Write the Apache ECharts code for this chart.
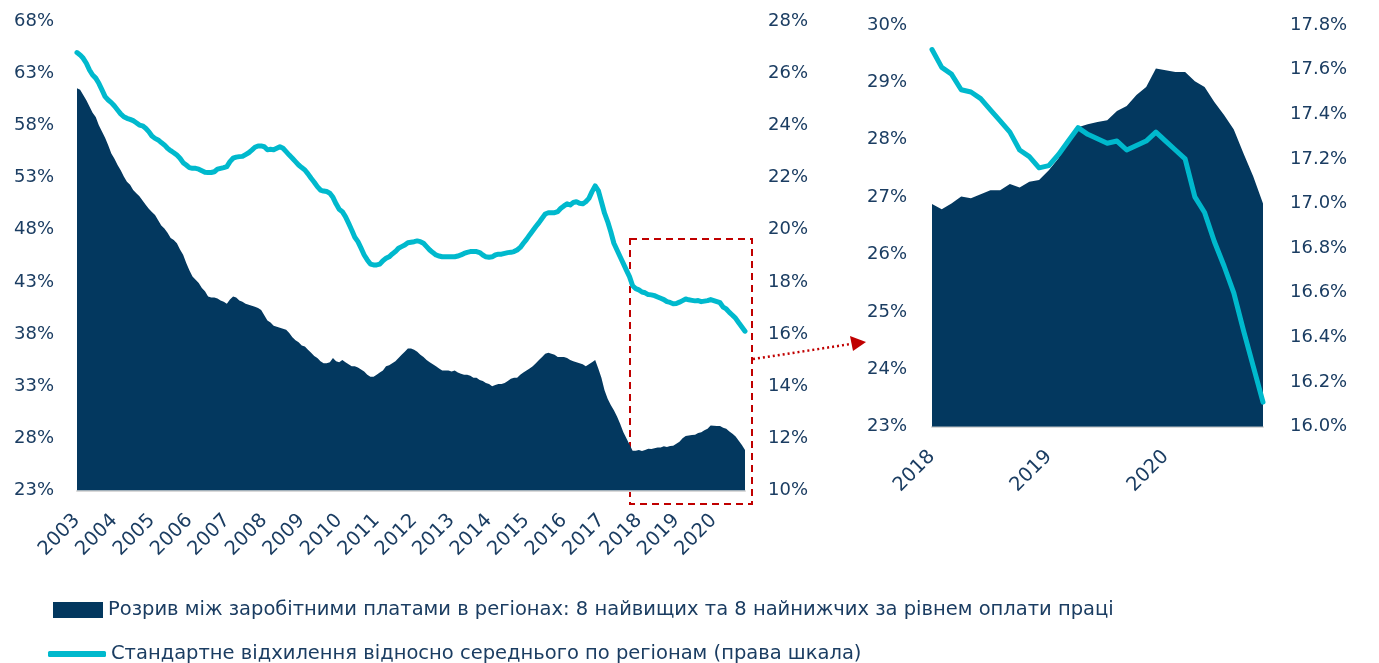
<!DOCTYPE html>
<html>
<head>
<meta charset="utf-8">
<script src="https://cdn.jsdelivr.net/npm/echarts@6/dist/echarts.min.js"></script>
<style>
  html, body { margin: 0; padding: 0; background: #fff; }
  #chart { width: 1379px; height: 663px; }
</style>
</head>
<body>
<div id="chart"></div>
<script>
// monthly data, Jan 2003 .. Nov 2020
var years = [2003, 2004, 2005, 2006, 2007, 2008, 2009, 2010, 2011, 2012, 2013, 2014, 2015, 2016, 2017, 2018, 2019, 2020];
var lastMonth = 11; // Nov 2020

// gap between 8 highest and 8 lowest paying regions, % (left scale)
var gapHist = [
  61.55, 61.4, 60.9, 60.4, 59.8, 59.2, 58.8, 58.0, 57.4, 56.8, 56.1, 55.3,
  54.8, 54.2, 53.7, 53.1, 52.6, 52.3, 51.8, 51.5, 51.2, 50.8, 50.4, 50.0,
  49.7, 49.4, 48.9, 48.4, 48.1, 47.7, 47.2, 47.0, 46.7, 46.1, 45.6, 44.8,
  44.1, 43.5, 43.2, 42.9, 42.4, 42.1, 41.6, 41.5, 41.5, 41.4, 41.2, 41.1,
  40.9, 41.3, 41.6, 41.5, 41.2, 41.1, 40.9, 40.8, 40.7, 40.6, 40.5, 40.3,
  39.8, 39.3, 39.1, 38.8, 38.7, 38.6, 38.5, 38.4, 38.1, 37.7, 37.4, 37.2,
  36.9, 36.8, 36.5, 36.2, 35.9, 35.7, 35.4, 35.2, 35.2, 35.3, 35.7, 35.4,
  35.3, 35.5, 35.3, 35.1, 34.9, 34.9, 34.8, 34.6, 34.4, 34.1, 33.9, 33.9,
  34.1, 34.3, 34.5, 34.9, 35.0, 35.2, 35.4, 35.7, 36.0, 36.3, 36.6, 36.6,
  36.5, 36.3, 36.0, 35.8, 35.5, 35.3, 35.1, 34.9, 34.7, 34.5, 34.5, 34.5,
  34.4, 34.5, 34.3, 34.2, 34.1, 34.1, 34.0, 33.8, 33.8, 33.6, 33.5, 33.3,
  33.2, 33.0, 33.1, 33.2, 33.2, 33.3, 33.5, 33.7, 33.8, 33.8, 34.1, 34.3,
  34.5, 34.7, 34.9, 35.2, 35.5, 35.8, 36.1, 36.2, 36.1, 36.0, 35.8, 35.8,
  35.8, 35.7, 35.5, 35.4, 35.3, 35.2, 35.1, 34.9, 35.1, 35.3, 35.5, 34.7,
  33.8, 32.6, 31.8, 31.2, 30.7, 30.1, 29.4, 28.6, 28.0, 27.4, 26.8, 26.8
];
var gapRecent = [
  26.88, 26.79, 26.89, 27.01, 26.98, 27.05, 27.12, 27.12, 27.23, 27.17, 27.27, 27.30,
  27.47, 27.68, 28.0, 28.22, 28.27, 28.31, 28.34, 28.50, 28.59, 28.78, 28.92, 29.24,
  29.21, 29.18, 29.18, 29.02, 28.92, 28.66, 28.43, 28.18, 27.76, 27.36, 26.89
];

// standard deviation relative to the regional mean, % (right scale)
var sdHist = [
  26.79, 26.70, 26.57, 26.38, 26.12, 25.93, 25.81, 25.61, 25.36, 25.10, 24.97, 24.87,
  24.74, 24.59, 24.44, 24.33, 24.27, 24.23, 24.18, 24.10, 24.01, 23.98, 23.89, 23.76,
  23.59, 23.50, 23.44, 23.34, 23.25, 23.12, 23.03, 22.95, 22.86, 22.74, 22.57, 22.48,
  22.38, 22.35, 22.35, 22.32, 22.26, 22.20, 22.19, 22.19, 22.22, 22.32, 22.35, 22.38,
  22.42, 22.61, 22.74, 22.78, 22.80, 22.81, 22.88, 22.95, 23.05, 23.16, 23.21, 23.21,
  23.18, 23.06, 23.08, 23.06, 23.12, 23.18, 23.12, 22.99, 22.86, 22.74, 22.61, 22.48,
  22.38, 22.29, 22.14, 21.97, 21.82, 21.65, 21.52, 21.48, 21.46, 21.40, 21.24, 20.99,
  20.78, 20.69, 20.50, 20.25, 19.99, 19.71, 19.54, 19.29, 19.03, 18.84, 18.68, 18.65,
  18.65, 18.68, 18.81, 18.90, 18.96, 19.07, 19.16, 19.29, 19.35, 19.41, 19.50, 19.52,
  19.54, 19.57, 19.54, 19.48, 19.35, 19.22, 19.12, 19.03, 18.99, 18.96, 18.96, 18.96,
  18.96, 18.96, 18.99, 19.03, 19.09, 19.13, 19.16, 19.16, 19.16, 19.12, 19.03, 18.96,
  18.94, 18.96, 19.03, 19.06, 19.06, 19.09, 19.12, 19.13, 19.16, 19.22, 19.32, 19.48,
  19.63, 19.80, 19.96, 20.12, 20.27, 20.44, 20.60, 20.65, 20.65, 20.65, 20.69, 20.82,
  20.91, 20.99, 20.95, 21.04, 21.07, 21.01, 20.99, 21.07, 21.20, 21.46, 21.68, 21.50,
  21.07, 20.63, 20.31, 19.92, 19.48, 19.22, 18.96, 18.71, 18.45, 18.20, 17.85, 17.74
];
var sdRecent = [
  17.69, 17.61, 17.58, 17.51, 17.50, 17.47, 17.42, 17.37, 17.32, 17.24, 17.21, 17.16,
  17.17, 17.22, 17.28, 17.34, 17.31, 17.29, 17.27, 17.28, 17.24, 17.26, 17.28, 17.32,
  17.28, 17.24, 17.20, 17.03, 16.96, 16.83, 16.72, 16.60, 16.43, 16.27, 16.11
];

var gapName = 'Розрив між заробітними платами в регіонах: 8 найвищих та 8 найнижчих за рівнем оплати праці';
var sdName = 'Стандартне відхилення відносно середнього по регіонам (права шкала)';

var navy = '#03385f';
var cyan = '#00b9cd';
var textColor = '#1b3d62';
var font = 'DejaVu Sans';

var months = [];
years.forEach(function (y) {
  for (var m = 1; m <= 12; m++) {
    if (y == years[years.length - 1] && m > lastMonth) break;
    months.push(y + '-' + (m < 10 ? '0' + m : m));
  }
});
var recentMonths = months.slice(months.length - gapRecent.length);
var gapAll = gapHist.concat(gapRecent);
var sdAll = sdHist.concat(sdRecent);

var chart = echarts.init(document.getElementById('chart'));

function xAxis(idx, data) {
  return {
    type: 'category',
    gridIndex: idx,
    data: data,
    boundaryGap: false,
    axisLine: { lineStyle: { color: '#d9d9d9', width: 2 } },
    axisTick: { show: false },
    axisLabel: {
      rotate: 45,
      margin: 27,
      fontSize: 19.5,
      fontFamily: font,
      color: textColor,
      interval: function (i, v) { return v.slice(5) == '01'; },
      formatter: function (v) { return v.slice(0, 4); }
    }
  };
}

function yAxis(idx, pos, min, max, step, margin, digits) {
  return {
    type: 'value',
    gridIndex: idx,
    position: pos,
    min: min,
    max: max,
    interval: step,
    splitLine: { show: false },
    axisLine: { show: false },
    axisTick: { show: false },
    axisLabel: {
      margin: margin,
      fontSize: 18,
      fontFamily: font,
      color: textColor,
      formatter: function (v) { return v.toFixed(digits) + '%'; }
    }
  };
}

function areaSeries(xi, yi, data) {
  return {
    name: gapName,
    type: 'line',
    xAxisIndex: xi,
    yAxisIndex: yi,
    data: data,
    symbol: 'none',
    color: navy,
    lineStyle: { width: 0 },
    areaStyle: { color: navy, opacity: 1 }
  };
}

function lineSeries(xi, yi, data) {
  return {
    name: sdName,
    type: 'line',
    xAxisIndex: xi,
    yAxisIndex: yi,
    data: data,
    symbol: 'none',
    color: cyan,
    lineStyle: { color: cyan, width: 5, cap: 'round', join: 'round' }
  };
}

var legendText = { fontSize: 19.5, fontFamily: font, color: textColor };

var option = {
  animation: false,
  grid: [
    { left: 77, top: 21, width: 668, height: 469.5 },
    { left: 932, top: 25, width: 331, height: 401.7 }
  ],
  xAxis: [xAxis(0, months), xAxis(1, recentMonths)],
  yAxis: [
    yAxis(0, 'left', 23, 68, 5, 23, 0),
    yAxis(0, 'right', 10, 28, 2, 23, 0),
    yAxis(1, 'left', 23, 30, 1, 25, 0),
    yAxis(1, 'right', 16, 17.8, 0.2, 27, 1)
  ],
  legend: [
    {
      left: 48,
      top: 595,
      itemWidth: 50,
      itemHeight: 16,
      itemGap: 0,
      selectedMode: false,
      textStyle: legendText,
      data: [{ name: gapName, icon: 'rect' }]
    },
    {
      left: 43,
      top: 639,
      itemWidth: 58,
      itemHeight: 6,
      selectedMode: false,
      textStyle: legendText,
      data: [{ name: sdName, icon: 'roundRect', itemStyle: { color: cyan } }]
    }
  ],
  series: [
    areaSeries(0, 0, gapAll),
    lineSeries(0, 1, sdAll),
    areaSeries(1, 2, gapRecent),
    lineSeries(1, 3, sdRecent)
  ],
  graphic: [
    {
      type: 'rect',
      shape: { x: 630, y: 239, width: 122, height: 265 },
      style: { fill: 'none', stroke: '#c00000', lineWidth: 2, lineDash: [7, 5] }
    },
    {
      type: 'line',
      shape: { x1: 753, y1: 359, x2: 851, y2: 344 },
      style: { stroke: '#c00000', lineWidth: 2.5, lineDash: [2, 3] }
    },
    {
      type: 'polygon',
      shape: { points: [[850, 336], [866, 342], [853, 351]] },
      style: { fill: '#c00000' }
    }
  ]
};
chart.setOption(option);
</script>
</body>
</html>
